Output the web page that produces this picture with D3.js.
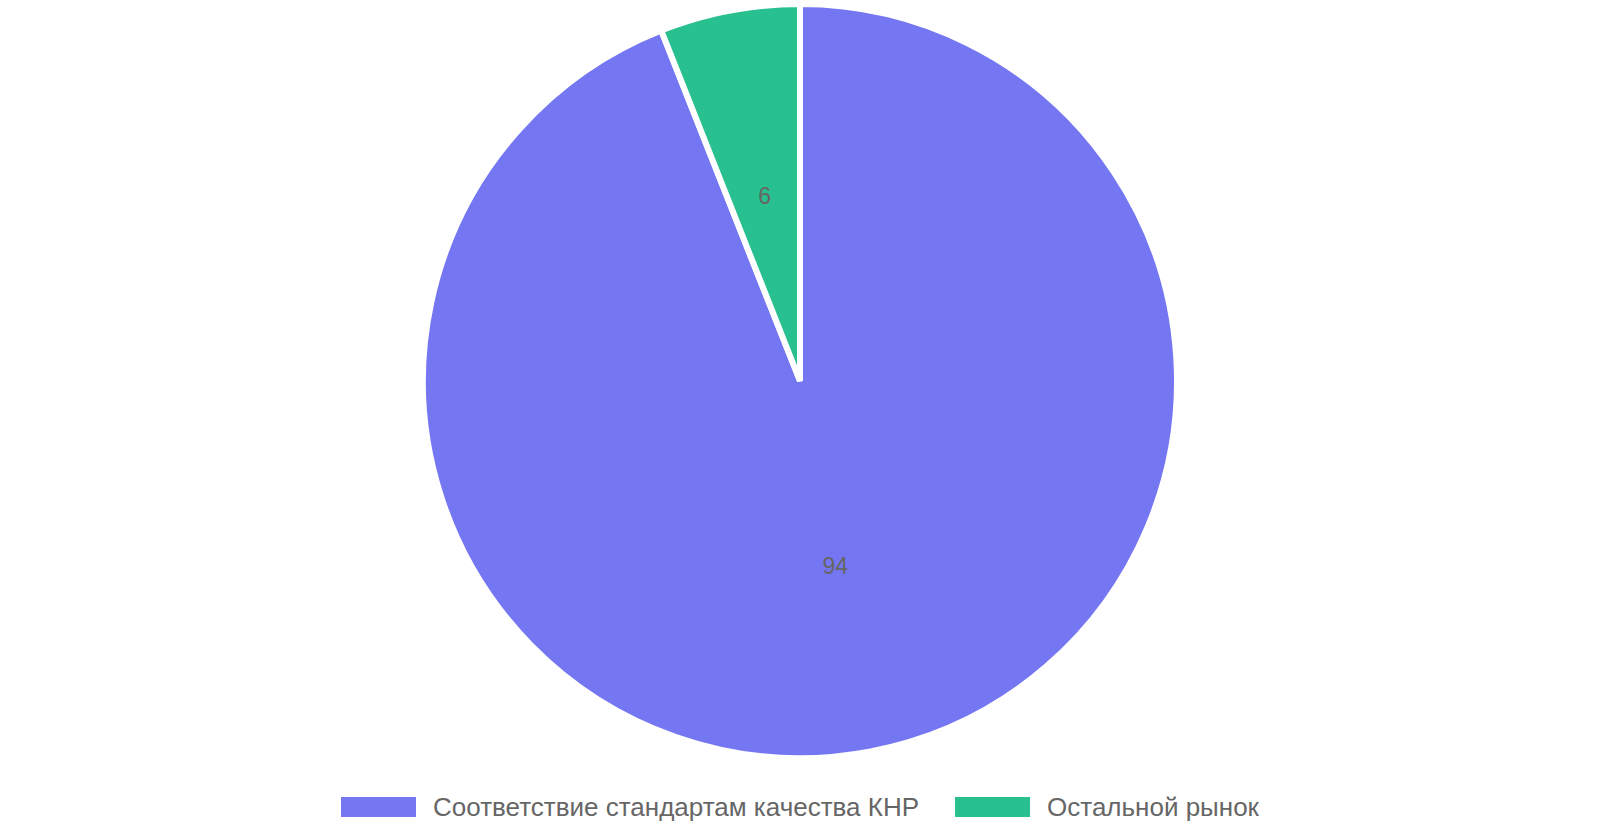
<!DOCTYPE html>
<html><head><meta charset="utf-8">
<script src="https://cdn.jsdelivr.net/npm/d3@7"></script>
<style>html,body{margin:0;padding:0;background:#fff;}svg{display:block;}</style>
</head><body>
<svg id="chart" width="1600" height="840"></svg>
<script>
const categories = ["Соответствие стандартам качества КНР", "Остальной рынок"];
const values = [94, 6];
const colors = ["#7476f2", "#29c08f"];

const W = 1600, H = 840;
const cx = 800, cy = 381, R = 377;
const svg = d3.select("#chart");
const font = "'Liberation Sans', Arial, sans-serif";

const data = categories.map((c, i) => ({name: c, value: values[i], color: colors[i]}));
const pie = d3.pie().value(d => d.value).sort(null);
const arc = d3.arc().innerRadius(0).outerRadius(R);
const labelArc = d3.arc().innerRadius(R / 2).outerRadius(R / 2);

const g = svg.append("g").attr("transform", `translate(${cx},${cy})`);
const arcs = pie(data);
g.selectAll("path").data(arcs).join("path")
  .attr("d", arc)
  .attr("fill", d => d.data.color)
  .attr("stroke", "#fff")
  .attr("stroke-width", 6)
  .attr("stroke-linejoin", "bevel");

g.selectAll("text").data(arcs).join("text")
  .attr("transform", d => `translate(${labelArc.centroid(d)})`)
  .attr("text-anchor", "middle")
  .attr("dy", "0.35em")
  .attr("font-family", font)
  .attr("font-size", 23)
  .attr("fill", "#666")
  .text(d => d.data.value);

// legend
const lg = svg.append("g");
const boxW = 75, boxH = 20, gapText = 17, gapItem = 36, fs = 26;
const items = lg.selectAll("g").data(data).join("g");
items.append("rect").attr("width", boxW).attr("height", boxH).attr("fill", d => d.color);
items.append("text")
  .attr("x", boxW + gapText).attr("y", boxH / 2).attr("dy", "0.35em")
  .attr("font-family", font).attr("font-size", fs).attr("fill", "#666")
  .text(d => d.name);
const widths = [];
items.each(function() {
  const tw = d3.select(this).select("text").node().getComputedTextLength();
  widths.push(boxW + gapText + tw);
});
const total = widths.reduce((a, b) => a + b, 0) + gapItem * (widths.length - 1);
let start = (W - total) / 2;
items.attr("transform", (d, i) => {
  const t = `translate(${start},797)`;
  start += widths[i] + gapItem;
  return t;
});
</script>
</body></html>
